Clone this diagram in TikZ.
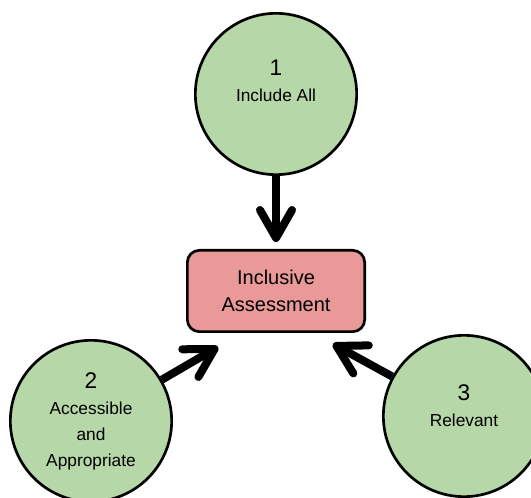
\documentclass[tikz,border=0pt]{standalone}
\usepackage{fontspec}
\setmainfont{Liberation Sans}
\usetikzlibrary{arrows.meta}
\definecolor{leafgreen}{HTML}{B6D7A8}
\definecolor{rosered}{HTML}{EA9999}
\newcommand{\bubblenum}[1]{{\fontsize{17}{20}\selectfont #1}}
\tikzset{
  bigarrow/.style={line width=6pt, -{Straight Barb[length=21pt,width=24pt,round]}},
}

\begin{document}
\begin{tikzpicture}[x=0.75pt,y=-0.75pt,
    bubble/.style={circle, draw, line width=2pt, fill=leafgreen, minimum size=121pt, inner sep=0pt},
    bubbletext/.style={align=center, inner sep=0pt, font=\fontsize{13}{19.5}\selectfont},
    box/.style={rectangle, rounded corners=9pt, draw, line width=2pt, fill=rosered,
      minimum width=133pt, minimum height=61pt, align=center, font=\fontsize{15}{20}\selectfont}
]
    \useasboundingbox (0,0) rectangle (531,498);

    % outer circles
    \node[bubble] (n1) at (276,94) {};
    \node[bubble] (n2) at (91,421) {};
    \node[bubble] (n3) at (464,416) {};
    \node[bubbletext, yshift=10pt] (t1) at (n1) {\bubblenum{1}\\Include All};
    \node[bubbletext] (t2) at (n2) {\bubblenum{2}\\Accessible\\and\\Appropriate};
    \node[bubbletext, yshift=8pt] (t3) at (n3) {\bubblenum{3}\\Relevant};

    % centre box
    \node[box] (ia) at (276,291) {Inclusive\\Assessment};

    % arrows into the box
    \coordinate (tip1) at (276,242);
    \coordinate (tip2) at (218,347);
    \coordinate (tip3) at (333,344);
    \draw[bigarrow] (n1) -- (tip1);
    \draw[bigarrow] (n2) -- (tip2);
    \draw[bigarrow] (n3) -- (tip3);
\end{tikzpicture}
\end{document}
